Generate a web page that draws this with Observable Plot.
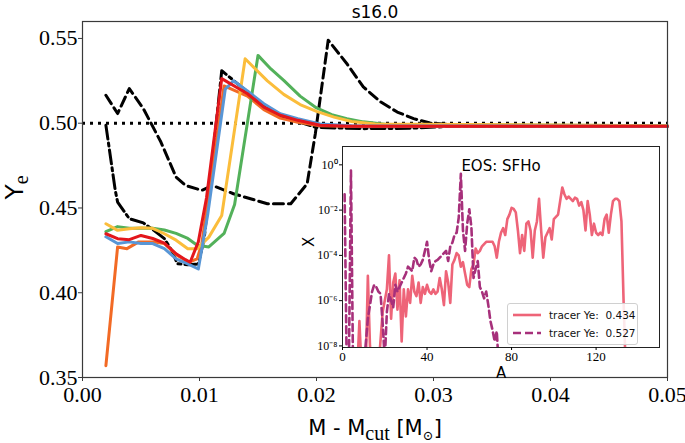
<!DOCTYPE html>
<html><head><meta charset="utf-8">
<script src="https://cdn.jsdelivr.net/npm/d3@7"></script>
<script src="https://cdn.jsdelivr.net/npm/@observablehq/plot@0.6"></script>
<style>
body{margin:0;background:#fff}
#wrap{position:relative;width:685px;height:443px;overflow:hidden}
#inset{position:absolute;left:290px;top:140px}
#legend{position:absolute;left:507px;top:303px;width:129px;height:40px;border:1px solid #d0d0d0;border-radius:3px;background:rgba(255,255,255,0.85);font-family:"DejaVu Sans";font-size:10.5px;color:#111;white-space:nowrap}
#legend .row{position:absolute;left:5px;height:16px;display:flex;align-items:center;white-space:nowrap}
#legend svg{margin-right:8px;flex:none}
</style></head>
<body><div id="wrap"><div id="main"></div><div id="inset"></div>
<div id="legend">
 <div class="row" style="top:3px"><svg width="28" height="6"><line x1="0" y1="3" x2="28" y2="3" stroke="#ee6478" stroke-width="2.6"/></svg><span>tracer Ye:&nbsp; 0.434</span></div>
 <div class="row" style="top:21px"><svg width="28" height="6"><line x1="0" y1="3" x2="28" y2="3" stroke="#a7307b" stroke-width="2.6" stroke-dasharray="8,4"/></svg><span>tracer Ye:&nbsp; 0.527</span></div>
</div></div>
<script>
// ---- main panel data: M - Mcut [Msun] vs Ye ----
const titleText = "s16.0";
const xTicks = [0, 0.01, 0.02, 0.03, 0.04, 0.05];
const yTicks = [0.35, 0.40, 0.45, 0.50, 0.55];
const yeRef = [0.5];

const orangeX = [0.002,0.003,0.0038,0.0048,0.006,0.007,0.0081,0.0091,0.0098,0.0102,0.0121,0.0141,0.0155,0.0169,0.0184,0.0203,0.023,0.05];
const orangeY = [0.357,0.427,0.426,0.430,0.430,0.429,0.422,0.418,0.420,0.429,0.522,0.516,0.508,0.503,0.5005,0.4985,0.4982,0.4982];

const blueX = [0.002,0.003,0.004,0.005,0.006,0.007,0.008,0.009,0.0099,0.0107,0.0122,0.0129,0.0141,0.0155,0.0169,0.0184,0.0203,0.023,0.05];
const blueY = [0.433,0.429,0.430,0.429,0.429,0.426,0.420,0.417,0.414,0.446,0.520,0.525,0.519,0.5115,0.5056,0.5027,0.4995,0.4985,0.4982];

const greenX = [0.002,0.003,0.004,0.005,0.006,0.007,0.008,0.009,0.0098,0.0108,0.0121,0.013,0.015,0.0161,0.0172,0.0186,0.02,0.0213,0.0226,0.024,0.026,0.05];
const greenY = [0.436,0.439,0.438,0.438,0.438,0.437,0.435,0.432,0.428,0.427,0.435,0.452,0.540,0.532,0.5253,0.516,0.509,0.505,0.5027,0.5008,0.4992,0.4985];

const yellowX = [0.002,0.003,0.004,0.005,0.006,0.007,0.008,0.009,0.0098,0.0108,0.0119,0.0139,0.0158,0.0172,0.0186,0.02,0.0215,0.023,0.025,0.05];
const yellowY = [0.4407,0.4368,0.4378,0.4384,0.438,0.4348,0.431,0.426,0.426,0.4328,0.4456,0.538,0.525,0.517,0.511,0.507,0.5036,0.501,0.4995,0.4985];

const redX = [0.002,0.003,0.004,0.005,0.006,0.007,0.008,0.0088,0.0092,0.0099,0.0106,0.0119,0.0141,0.0155,0.0169,0.0184,0.0203,0.023,0.05];
const redY = [0.4348,0.4319,0.4313,0.4338,0.432,0.4293,0.423,0.4195,0.418,0.430,0.456,0.5263,0.5174,0.5095,0.5047,0.5017,0.4988,0.4982,0.4982];

const dashedX = [0.002,0.003,0.004,0.0052,0.0067,0.008,0.0088,0.0102,0.0111,0.0129,0.0158,0.0178,0.0192,0.0199,0.021,0.0226,0.024,0.0255,0.0269,0.0283,0.0297,0.033,0.05];
const dashedY = [0.5165,0.5057,0.5204,0.5086,0.4889,0.4682,0.4633,0.4604,0.4633,0.4584,0.4525,0.4525,0.4643,0.4938,0.549,0.5351,0.5214,0.5125,0.5066,0.5027,0.5001,0.4985,0.4982];

const dashDotX = [0.002,0.0028,0.003,0.004,0.0052,0.0061,0.007,0.0077,0.0081,0.009,0.0099,0.0104,0.0119,0.0129,0.0141,0.0155,0.0169,0.0184,0.02,0.024,0.028,0.031,0.05];
const dashDotY = [0.4988,0.4604,0.4535,0.4437,0.4412,0.4368,0.4319,0.424,0.4171,0.4165,0.417,0.432,0.531,0.5253,0.5185,0.510,0.5045,0.501,0.4975,0.4968,0.4970,0.4980,0.4982];

// ---- inset data: mass number A vs log10 mass fraction X ----
const insetTitle = "EOS: SFHo";
const insetXTicks = [0, 40, 80, 120];
const insetYTicks = [1e-8, 1e-6, 1e-4, 1e-2, 1];

const pinkA = [7,8,9,11,12,13,14,17,19,21,22,23,24,25,26,27,28,29,30,31,32,33,34,35,36,37,38,39,40,41,42,43,44,45,46,47,48,49,50,51,52,53,54,55,56,57,58,59,60,61,62,63,64,65,66,67,68,69,70,71,72,73,74,75,76,77,78,79,80,81,82,83,84,85,86,87,88,89,90,91,92,93,94,95,96,97,98,99,100,101,102,103,104,105,106,107,108,109,110,111,112,113,114,115,116,117,118,119,120,121,122,123,124,125,126,127,128,129,130,131,132,133,134];
const pinkLog = [-9,-6.9,-9,-9,-4.9,-8,-9,-9,-6.5,-5.5,-4.0,-6.8,-5.2,-4.8,-6.4,-5.1,-7.8,-5.5,-6.7,-5.5,-6.1,-4.9,-5.6,-5.8,-5.2,-6.1,-5.4,-5.7,-5.3,-5.6,-5.7,-5.5,-5.7,-5.6,-5.0,-5.5,-6.2,-4.7,-5.2,-6.1,-4.4,-4.2,-3.9,-4.0,-4.5,-4.3,-4.8,-5.3,-5.4,-4.6,-4.4,-3.7,-3.9,-3.8,-3.6,-3.5,-3.4,-3.4,-3.4,-3.4,-3.6,-4.1,-3.4,-3.0,-2.8,-3.1,-2.4,-2.2,-1.9,-1.95,-2.1,-2.9,-3.9,-3.1,-3.8,-2.6,-2.5,-2.9,-4.1,-2.9,-2.5,-1.5,-2.9,-4.1,-3.2,-3.0,-2.8,-3.3,-2.4,-2.3,-2.2,-1.6,-1.0,-1.3,-1.5,-1.4,-1.5,-1.6,-1.45,-1.5,-1.8,-1.65,-2.0,-2.9,-1.6,-2.2,-3.1,-2.6,-3.0,-3.1,-3.0,-3.1,-2.4,-2.2,-3.0,-2.2,-1.6,-1.5,-1.5,-1.6,-2.5,-6.0,-9];

const purpleA = [1,2,3,4,5,10,12,13,14,15,16,17,18,19,20,21,22,23,24,25,26,27,28,29,30,31,32,33,34,35,36,37,38,39,40,41,42,43,44,45,46,47,48,49,50,51,52,53,54,55,56,57,58,59,60,61,62,63,64,65,66,67,68,69,70,71,72,73,74];
const purpleLog = [-1.3,-9,-9,-0.25,-9,-9,-6.8,-6.2,-5.6,-5.3,-5.4,-5.6,-5.7,-7.0,-8.6,-6.5,-5.7,-6.0,-6.3,-5.3,-5.6,-5.4,-5.2,-5.0,-4.8,-4.5,-4.6,-4.7,-4.1,-4.2,-4.5,-4.4,-4.2,-3.8,-3.4,-4.2,-4.7,-4.4,-4.25,-4.2,-4.1,-4.0,-3.9,-3.8,-4.25,-3.6,-3.44,-3.1,-3.0,-2.33,-0.4,-2.9,-3.8,-2.6,-1.96,-2.77,-5.0,-4.6,-4.25,-5.4,-5.6,-5.9,-5.6,-6.2,-6.9,-7.3,-7.8,-7.35,-9];

// ---- build ----
const rows = (xs, ys) => xs.map((x, i) => ({x, y: ys[i]}));
const logRows = (as, ls) => as.map((a, i) => ({a, v: Math.pow(10, ls[i])}));
const SERIF = "Liberation Serif";
const SANS = "DejaVu Sans";
const lw = 3;

const main = Plot.plot({
  width: 685, height: 443,
  marginLeft: 82, marginRight: 18, marginTop: 21, marginBottom: 66,
  x: {domain: [0, 0.05]},
  y: {domain: [0.35, 0.56]},
  style: {background: "white", color: "#000", overflow: "visible", fontFamily: SERIF},
  marks: [
    Plot.ruleY(yeRef, {stroke: "black", strokeWidth: 3, strokeDasharray: "3,5"}),
    Plot.line(rows(dashedX, dashedY), {x: "x", y: "y", stroke: "black", strokeWidth: lw, strokeDasharray: "10,5"}),
    Plot.line(rows(dashDotX, dashDotY), {x: "x", y: "y", stroke: "black", strokeWidth: lw, strokeDasharray: "14,4,3,4"}),
    Plot.line(rows(orangeX, orangeY), {x: "x", y: "y", stroke: "#f26a25", strokeWidth: lw}),
    Plot.line(rows(greenX, greenY), {x: "x", y: "y", stroke: "#53b15a", strokeWidth: lw}),
    Plot.line(rows(yellowX, yellowY), {x: "x", y: "y", stroke: "#fbbd3b", strokeWidth: lw}),
    Plot.line(rows(blueX, blueY), {x: "x", y: "y", stroke: "#5896d6", strokeWidth: lw}),
    Plot.line(rows(redX, redY), {x: "x", y: "y", stroke: "#e3161c", strokeWidth: lw}),
    Plot.frame({stroke: "#3a3a3a", strokeWidth: 1.2}),
    Plot.axisX({ticks: xTicks, tickFormat: d3.format(".2f"), tickSize: 4, tickPadding: 5, fontSize: 22, label: null, stroke: "#3a3a3a"}),
    Plot.axisY({ticks: yTicks, tickFormat: d3.format(".2f"), tickSize: 4, tickPadding: 1, fontSize: 22, label: null, stroke: "#3a3a3a"}),
    Plot.text([titleText], {frameAnchor: "top", lineAnchor: "bottom", dy: -4, fontSize: 17, fontFamily: SANS, fill: "#000"}),
    Plot.text(["M - Mcut [M⊙]"], {frameAnchor: "bottom", lineAnchor: "bottom", dy: 57, fontSize: 21, fontFamily: SANS, fill: "#000"}),
    Plot.text(["Ye"], {frameAnchor: "left", lineAnchor: "bottom", rotate: -90, dx: -60, fontSize: 25, fontFamily: SANS, fill: "#000"})
  ]
});
document.getElementById("main").append(main);

const inset = Plot.plot({
  width: 375, height: 245,
  marginLeft: 52, marginRight: 6, marginTop: 6, marginBottom: 38,
  x: {domain: [0, 150]},
  y: {type: "log", domain: [Math.pow(10, -8.07), Math.pow(10, 0.81)]},
  style: {background: "transparent", color: "#000", overflow: "visible", fontFamily: SERIF},
  marks: [
    Plot.frame({fill: "white"}),
    Plot.line(logRows(pinkA, pinkLog), {x: "a", y: "v", stroke: "#ee6478", strokeWidth: 2.6, clip: true}),
    Plot.line(logRows(purpleA, purpleLog), {x: "a", y: "v", stroke: "#a7307b", strokeWidth: 2.6, strokeDasharray: "7,4", clip: true}),
    Plot.frame({stroke: "#222", strokeWidth: 1}),
    Plot.axisX({ticks: insetXTicks, tickSize: 3, tickPadding: 1, fontSize: 13, label: null}),
    Plot.axisY({ticks: insetYTicks, tickFormat: d => "10" + ({"0":"⁰","-2":"⁻²","-4":"⁻⁴","-6":"⁻⁶","-8":"⁻⁸"})[String(Math.round(Math.log10(d)))], tickSize: 3, tickPadding: 2, fontSize: 12, label: null}),
    Plot.text([insetTitle], {frameAnchor: "top", lineAnchor: "bottom", dy: 24, fontSize: 15, fontFamily: SANS, fill: "#000"}),
    Plot.text(["A"], {frameAnchor: "bottom", lineAnchor: "bottom", dy: 30, fontSize: 15, fontFamily: SANS, fill: "#000"}),
    Plot.text(["X"], {frameAnchor: "left", lineAnchor: "bottom", rotate: -90, dx: -29, fontSize: 15, fontFamily: SANS, fill: "#000"})
  ]
});
document.getElementById("inset").append(inset);

// serif tick labels (LaTeX-like look), set on each text element
for (const svg of [main, inset]) {
  d3.select(svg).selectAll("text")
    .filter(function() { return /^[0-9.]+$/.test(this.textContent) || /^10[⁰⁻²⁴⁶⁸]+$/.test(this.textContent); })
    .attr("font-family", SERIF)
    .style("font-family", SERIF);
}

// rich labels (subscripts)
function richText(svg, content, parts) {
  const t = d3.select(svg).selectAll("text").filter(function() { return this.textContent === content; });
  if (t.empty()) return;
  t.text(null);
  let shift = 0;
  for (const p of parts) {
    const ts = t.append("tspan").text(p.t);
    if (p.ff) ts.attr("font-family", p.ff).style("font-family", p.ff);
    if (p.fs) ts.style("font-size", p.fs + "px");
    const target = p.sub || 0;
    if (target !== shift) { ts.attr("dy", target - shift); shift = target; }
  }
}
richText(main, "M - Mcut [M⊙]", [{t: "M - M"}, {t: "cut", ff: SERIF, fs: 20, sub: 5}, {t: " [M", sub: 0}, {t: "⊙", ff: "DejaVu Serif", fs: 13, sub: 5}, {t: "]", sub: 0}]);
richText(main, "Ye", [{t: "Y"}, {t: "e", ff: SERIF, fs: 20, sub: 5}]);
</script>
</body></html>
